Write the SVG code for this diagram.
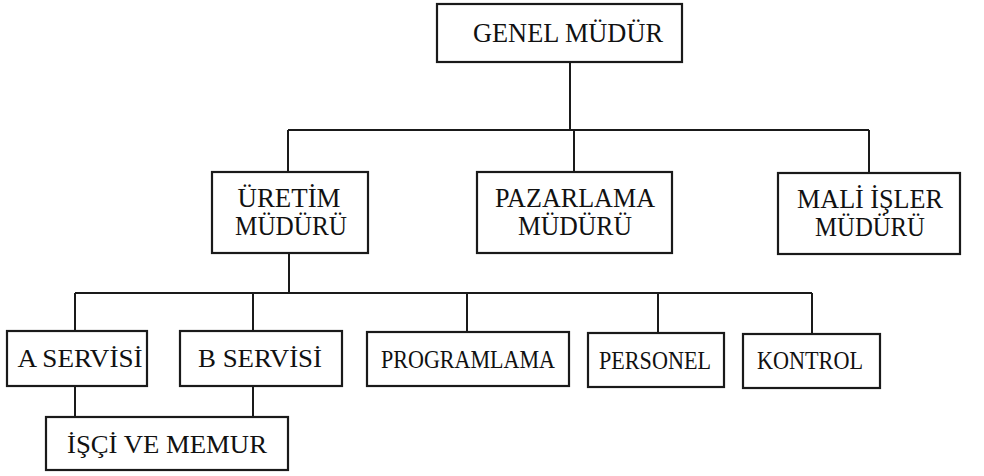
<svg xmlns="http://www.w3.org/2000/svg" width="984" height="476" viewBox="0 0 984 476">
  <style>
    .box { fill: #ffffff; stroke: #1a1a1a; stroke-width: 2.2; }
    .lbl { font-family: "Liberation Serif", "Times New Roman", serif; font-size: 27px; fill: #111111; text-anchor: middle; }
    .sm { font-size: 26px; }
    .wire { fill: none; stroke: #1a1a1a; stroke-width: 2; }
  </style>
  <rect width="984" height="476" fill="#ffffff"/>

  <g id="connectors">
    <!-- top level -->
    <path class="wire" d="M570 62 V130"/>
    <path class="wire" d="M288 130 H869"/>
    <path class="wire" d="M288 130 V172"/>
    <path class="wire" d="M574 130 V172"/>
    <path class="wire" d="M869 130 V173"/>
    <!-- production branch -->
    <path class="wire" d="M289 253 V293"/>
    <path class="wire" d="M75 293 H812"/>
    <path class="wire" d="M75 293 V331"/>
    <path class="wire" d="M253 293 V331"/>
    <path class="wire" d="M467 293 V332"/>
    <path class="wire" d="M658 293 V333"/>
    <path class="wire" d="M812 293 V334"/>
    <!-- services to staff -->
    <path class="wire" d="M75 386 V417"/>
    <path class="wire" d="M253 386 V417"/>
  </g>

  <g id="genel-mudur">
    <rect class="box" x="437" y="4" width="245" height="58"/>
    <text class="lbl" x="568" y="42" textLength="190" lengthAdjust="spacingAndGlyphs">GENEL MÜDÜR</text>
  </g>

  <g id="uretim-muduru">
    <rect class="box" x="212" y="172" width="156" height="81"/>
    <text class="lbl" x="289" y="207" textLength="103" lengthAdjust="spacingAndGlyphs">ÜRETİM</text>
    <text class="lbl" x="291" y="235" textLength="112" lengthAdjust="spacingAndGlyphs">MÜDÜRÜ</text>
  </g>

  <g id="pazarlama-muduru">
    <rect class="box" x="477" y="172" width="195" height="81"/>
    <text class="lbl" x="575" y="207" textLength="160" lengthAdjust="spacingAndGlyphs">PAZARLAMA</text>
    <text class="lbl" x="575" y="235" textLength="114" lengthAdjust="spacingAndGlyphs">MÜDÜRÜ</text>
  </g>

  <g id="mali-isler-muduru">
    <rect class="box" x="778" y="173" width="182" height="81"/>
    <text class="lbl" x="870" y="208" textLength="146" lengthAdjust="spacingAndGlyphs">MALİ İŞLER</text>
    <text class="lbl" x="870" y="236" textLength="110" lengthAdjust="spacingAndGlyphs">MÜDÜRÜ</text>
  </g>

  <g id="a-servisi">
    <rect class="box" x="7" y="331" width="140" height="55"/>
    <text class="lbl sm" x="80" y="367" textLength="125" lengthAdjust="spacingAndGlyphs">A SERVİSİ</text>
  </g>

  <g id="b-servisi">
    <rect class="box" x="180" y="331" width="162" height="55"/>
    <text class="lbl sm" x="260" y="367" textLength="124" lengthAdjust="spacingAndGlyphs">B SERVİSİ</text>
  </g>

  <g id="programlama">
    <rect class="box" x="367" y="332" width="202" height="54"/>
    <text class="lbl sm" x="468" y="368" textLength="174" lengthAdjust="spacingAndGlyphs">PROGRAMLAMA</text>
  </g>

  <g id="personel">
    <rect class="box" x="588" y="333" width="136" height="54"/>
    <text class="lbl sm" x="655" y="369" textLength="112" lengthAdjust="spacingAndGlyphs">PERSONEL</text>
  </g>

  <g id="kontrol">
    <rect class="box" x="743" y="334" width="137" height="54"/>
    <text class="lbl sm" x="810" y="369" textLength="106" lengthAdjust="spacingAndGlyphs">KONTROL</text>
  </g>

  <g id="isci-ve-memur">
    <rect class="box" x="46" y="417" width="242" height="53"/>
    <text class="lbl sm" x="167" y="453" textLength="200" lengthAdjust="spacingAndGlyphs">İŞÇİ VE MEMUR</text>
  </g>
</svg>
